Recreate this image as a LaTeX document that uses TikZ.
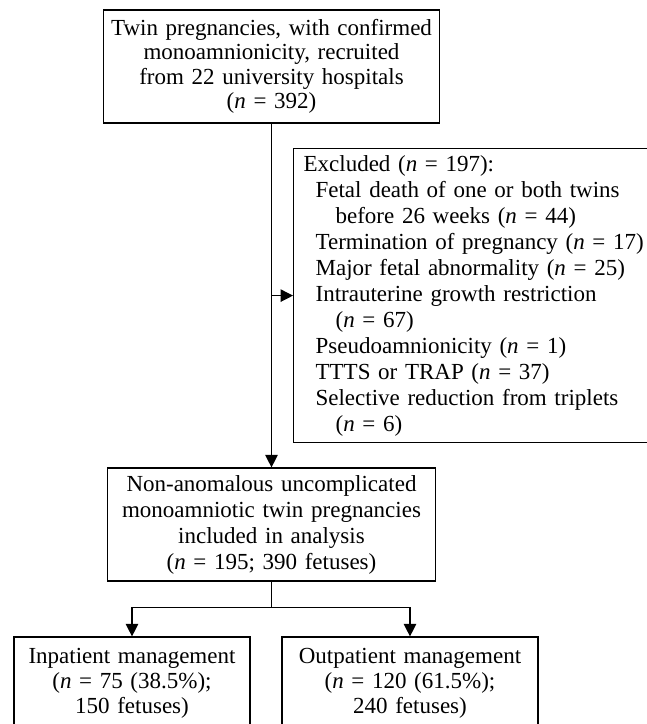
\documentclass[tikz,border=0pt]{standalone}
\usepackage{fontspec}
\setmainfont{Liberation Serif}
\usetikzlibrary{arrows.meta}
\begin{document}
\begin{tikzpicture}[x=1pt,y=-1pt,
  box/.style={draw, line width=1.2pt, inner sep=0pt, font=\fontsize{23}{26}\selectfont},
  conn/.style={line width=1.2pt},
  arr/.style={conn, -{Triangle[length=12.5pt,width=12.5pt]}}]
\useasboundingbox (0,0) rectangle (647,724);
\node[box, minimum width=336, minimum height=113, text width=330, align=center,
      font=\fontsize{23}{24.5}\selectfont] (top) at (271.5,66.5)
  {Twin pregnancies, with confirmed\\monoamnionicity, recruited\\from 22 university hospitals\\(\textit{n} = 392)};
\node[box, minimum width=380, minimum height=294, text width=360, inner xsep=10pt, align=left,
      anchor=north west] (excl) at (293,148)
  {Excluded (\textit{n} = 197):\\
   \hspace*{12pt}Fetal death of one or both twins\\
   \hspace*{32pt}before 26 weeks (\textit{n} = 44)\\
   \hspace*{12pt}Termination of pregnancy (\textit{n} = 17)\\
   \hspace*{12pt}Major fetal abnormality (\textit{n} = 25)\\
   \hspace*{12pt}Intrauterine growth restriction\\
   \hspace*{32pt}(\textit{n} = 67)\\
   \hspace*{12pt}Pseudoamnionicity (\textit{n} = 1)\\
   \hspace*{12pt}TTTS or TRAP (\textit{n} = 37)\\
   \hspace*{12pt}Selective reduction from triplets\\
   \hspace*{32pt}(\textit{n} = 6)};
\node[box, minimum width=328, minimum height=113, text width=322, align=center] (mid) at (271.5,524.5)
  {Non-anomalous uncomplicated\\monoamniotic twin pregnancies\\included in analysis\\(\textit{n} = 195; 390 fetuses)};
\node[box, minimum width=236, minimum height=93, text width=230, align=center,
      font=\fontsize{23}{25}\selectfont] (inp) at (132,683.5)
  {Inpatient management\\(\textit{n} = 75 (38.5\%);\\150 fetuses)};
\node[box, minimum width=256, minimum height=93, text width=250, align=center,
      font=\fontsize{23}{25}\selectfont] (outp) at (410,683.5)
  {Outpatient management\\(\textit{n} = 120 (61.5\%);\\240 fetuses)};
\draw[arr] (top.south) -- (mid.north);
\draw[arr] (excl.west -| top.south) -- (excl.west);
\draw[conn] (mid.south) -- ++(0,26) coordinate (b);
\draw[arr] (b) -| (inp.north);
\draw[arr] (b) -| (outp.north);
\end{tikzpicture}
\end{document}
